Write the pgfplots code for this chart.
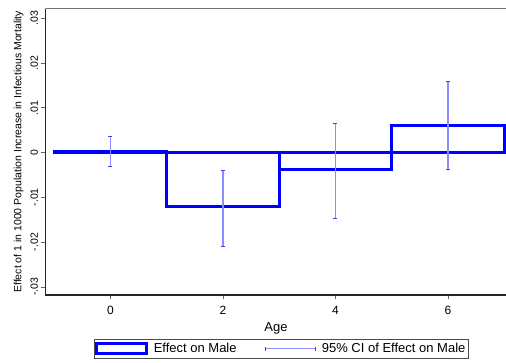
\documentclass[border=0pt]{standalone}
\usepackage{pgfplots}
\pgfplotsset{compat=1.18}
\usepackage{pgfplotstable}
\usepackage{fontspec}
\setmainfont{Liberation Sans}
\usetikzlibrary{calc}

\definecolor{barblue}{RGB}{0,0,255}
\definecolor{ciblue}{RGB}{140,140,255}
\definecolor{capblue}{RGB}{60,60,240}

\pgfplotstableread{
x y
0 0.0002
2 -0.0121
4 -0.0038
6 0.0061
}\bars
\pgfplotstableread{
x y ep em
0 0.0002 0.0034 0.0034
2 -0.0121 0.0081 0.0089
4 -0.0038 0.0102 0.0109
6 0.0061 0.0097 0.0099
}\ci

\begin{document}
\begin{tikzpicture}
\begin{axis}[
  scale only axis, width=461pt, height=286.3pt,
  xmin=-1.153, xmax=7.04, ymin=-0.0318, ymax=0.0321,
  scaled y ticks=false, scaled x ticks=false,
  axis lines*=left,
  axis line style={line width=1.2pt, black!85},
  xtick={0,2,4,6}, xticklabels={0,2,4,6},
  ytick={-0.03,-0.02,-0.01,0,0.01,0.02,0.03},
  yticklabels={-.03,-.02,-.01,0,.01,.02,.03},
  tick align=outside, major tick length=4pt,
  tick style={line width=0.8pt, black!60},
  xticklabel style={font=\fontsize{12}{14}\selectfont, yshift=-4pt},
  yticklabel style={rotate=90, anchor=south, font=\fontsize{10.5}{12}\selectfont},
  xlabel={Age}, xlabel style={font=\fontsize{13}{15}\selectfont, yshift=-1pt},
  ylabel={Effect of 1 in 1000 Population Increase in Infectious Mortality},
  ylabel style={font=\fontsize{10.5}{12}\selectfont},
  legend columns=2,
  legend style={at={(0.511,-0.1533)}, anchor=north, draw=black!70,
    inner xsep=1pt,
    font=\fontsize{13}{15}\selectfont,
    /tikz/column 1/.style={column sep=4pt},
    /tikz/column 2/.style={column sep=26pt},
    /tikz/column 3/.style={column sep=4pt}},
]
\addplot[ybar, bar width=2, bar shift=0pt, draw=barblue, fill=none, line width=3pt,
  legend image code/.code={\draw[line width=3pt, barblue] (0pt,-4.7pt) rectangle (50pt,4.7pt);}]
  table[x=x,y=y]{\bars};
\addlegendentry{Effect on Male}
\addplot[draw=none, mark=none,
  legend image code/.code={\draw[line width=1.2pt, ciblue] (0pt,0pt) -- (50pt,0pt);
    \draw[capblue, line width=1pt] (0pt,-2pt) -- (0pt,2pt) (50pt,-2pt) -- (50pt,2pt);},
  error bars/.cd, y dir=both, y explicit,
  error bar style={draw=ciblue, line width=1.5pt},
  error mark options={draw=capblue, line width=1pt, mark size=2pt, rotate=90},
  ]
  table[x=x, y=y, y error plus=ep, y error minus=em]{\ci};
\addlegendentry{95\% CI of Effect on Male\hspace{24pt}}
\draw[black!55, line width=1pt] (rel axis cs:0,1) -- (rel axis cs:1,1);
\coordinate (BL) at (rel axis cs:0,0);
\coordinate (TL) at (rel axis cs:0,1);
\end{axis}
\pgfresetboundingbox
\path[use as bounding box] ($(BL)+(-45.5pt,-67pt)$) rectangle ($(TL)+(460.5pt,8.7pt)$);
\end{tikzpicture}
\end{document}
